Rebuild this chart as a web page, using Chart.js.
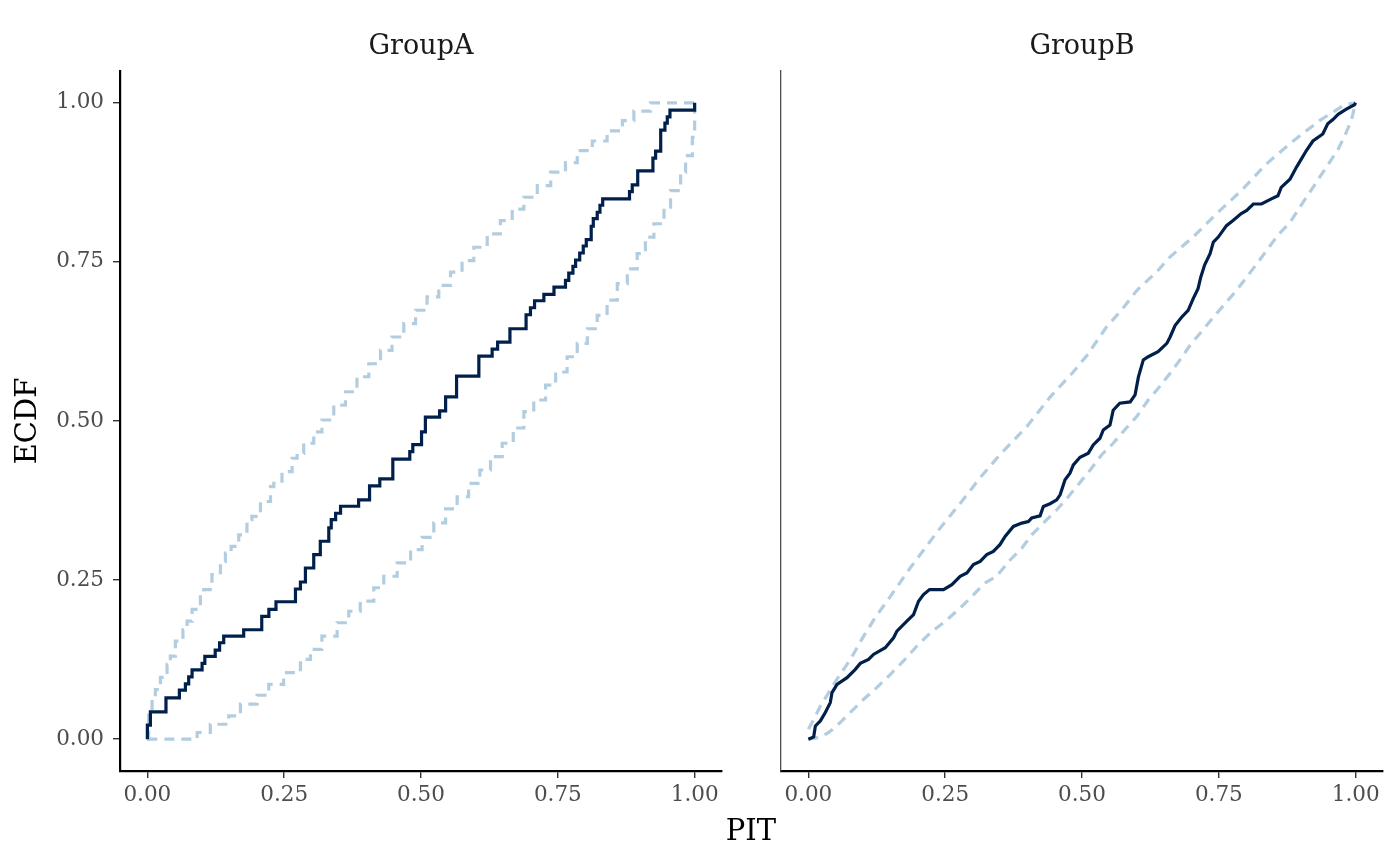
<!DOCTYPE html>
<html>
<head>
<meta charset="utf-8">
<script src="https://cdn.jsdelivr.net/npm/chart.js@4.4.1/dist/chart.umd.min.js"></script>
<style>
  html, body { margin: 0; padding: 0; background: #ffffff; }
  #wrap { position: relative; width: 1400px; height: 866px; overflow: hidden; }
  .panel { position: absolute; top: 0; }
  #xtitle { position: absolute; left: 651px; width: 200px; top: 816px; text-align: center;
            font-family: 'DejaVu Serif', serif; font-size: 29px; line-height: 29px; color: #000; }
</style>
</head>
<body>
<div id="wrap">
  <canvas id="cA" class="panel" width="750" height="866" style="left:0px;width:750px;height:866px"></canvas>
  <canvas id="cB" class="panel" width="650" height="866" style="left:750px;width:650px;height:866px"></canvas>
  <div id="xtitle">PIT</div>
</div>
<script>
// ---------------- data ----------------
const panelNames = ['GroupA', 'GroupB'];
const xTicks = [0, 0.25, 0.5, 0.75, 1];
const yTicks = [0, 0.25, 0.5, 0.75, 1];
const xLabel = 'PIT';
const yLabel = 'ECDF';

// GroupA: observed PIT ECDF (step corners: x, ECDF after the jump)
const ecdfA = [
  [0,0],[0,0.022],[0.0055,0.043],[0.034,0.065],[0.0585,0.077],[0.0695,0.087],[0.0755,0.098],
  [0.0817,0.109],[0.100,0.119],[0.105,0.130],[0.124,0.140],[0.132,0.1515],[0.1395,0.162],
  [0.176,0.172],[0.209,0.193],[0.222,0.204],[0.235,0.216],[0.2706,0.236],[0.2797,0.247],
  [0.2888,0.269],[0.304,0.290],[0.316,0.311],[0.3315,0.332],[0.336,0.345],[0.344,0.355],
  [0.353,0.366],[0.386,0.376],[0.406,0.398],[0.4247,0.409],[0.4485,0.440],[0.4795,0.452],
  [0.485,0.463],[0.501,0.483],[0.508,0.506],[0.534,0.516],[0.545,0.538],[0.565,0.5705],
  [0.6057,0.602],[0.630,0.613],[0.640,0.624],[0.6625,0.645],[0.692,0.667],[0.700,0.678],
  [0.7075,0.689],[0.7245,0.699],[0.743,0.7105],[0.764,0.721],[0.770,0.7325],[0.7776,0.743],
  [0.7825,0.753],[0.790,0.764],[0.7965,0.775],[0.802,0.785],[0.811,0.806],[0.8148,0.818],
  [0.822,0.828],[0.827,0.839],[0.832,0.849],[0.881,0.8605],[0.886,0.871],[0.896,0.893],
  [0.9238,0.913],[0.9287,0.924],[0.938,0.957],[0.9457,0.968],[0.950,0.978],[0.9549,0.9885],
  [1.0,1.0]
];
// GroupA: upper simultaneous band
const upperA = [
  [0,0],[0.0024,0.042],[0.0086,0.065],[0.0146,0.078],[0.0238,0.097],[0.036,0.1175],[0.042,0.1306],
  [0.0512,0.154],[0.065,0.172],[0.0726,0.1854],[0.0817,0.204],[0.097,0.227],[0.103,0.235],
  [0.118,0.2586],[0.1335,0.2795],[0.1426,0.2926],[0.153,0.303],[0.167,0.321],[0.182,0.345],
  [0.191,0.350],[0.2066,0.3735],[0.225,0.397],[0.231,0.402],[0.246,0.4205],[0.2645,0.4415],
  [0.2737,0.449],[0.2857,0.465],[0.304,0.483],[0.319,0.5016],[0.3406,0.525],[0.362,0.546],
  [0.383,0.5695],[0.4046,0.590],[0.426,0.611],[0.447,0.632],[0.4686,0.653],[0.490,0.674],
  [0.511,0.695],[0.5325,0.713],[0.554,0.734],[0.575,0.752],[0.5965,0.773],[0.621,0.794],
  [0.645,0.815],[0.6667,0.833],[0.688,0.8516],[0.7125,0.870],[0.737,0.891],[0.764,0.906],
  [0.7855,0.925],[0.813,0.940],[0.840,0.956],[0.868,0.972],[0.889,0.987],[0.9195,1.0],[1.0,1.0]
];
// GroupA: lower simultaneous band
const lowerA = [
  [0,0],[0.088,0],[0.091,0.0105],[0.115,0.0235],[0.1486,0.0365],[0.170,0.055],[0.2005,0.069],
  [0.2218,0.086],[0.249,0.1045],[0.2797,0.1254],[0.298,0.141],[0.319,0.162],[0.3468,0.183],
  [0.368,0.201],[0.389,0.217],[0.4137,0.238],[0.432,0.256],[0.4565,0.277],[0.481,0.298],
  [0.502,0.317],[0.5234,0.340],[0.545,0.362],[0.566,0.381],[0.587,0.402],[0.6075,0.423],
  [0.627,0.444],[0.6484,0.465],[0.6686,0.489],[0.688,0.5146],[0.706,0.533],[0.7276,0.5564],
  [0.746,0.577],[0.767,0.601],[0.7855,0.622],[0.804,0.645],[0.822,0.666],[0.840,0.690],
  [0.8587,0.716],[0.877,0.739],[0.895,0.763],[0.910,0.789],[0.9256,0.810],[0.944,0.836],
  [0.956,0.862],[0.9744,0.891],[0.9835,0.917],[0.9958,0.9456],[1.0,0.977],[1.0,1.0]
];

// GroupB: observed PIT ECDF
const ecdfB = [
  [0,0],[0.0097,0.0036],[0.0128,0.0208],[0.0219,0.0287],[0.031,0.0418],[0.0401,0.0575],
  [0.0432,0.0732],[0.0524,0.0862],[0.0706,0.0967],[0.0858,0.1097],[0.0949,0.1191],[0.110,0.1254],
  [0.119,0.1332],[0.1405,0.1437],[0.1557,0.1594],[0.1618,0.1698],[0.180,0.1854],[0.1922,0.1959],
  [0.2013,0.2168],[0.2104,0.2273],[0.2214,0.2351],[0.2469,0.2351],[0.2622,0.2429],[0.2774,0.256],
  [0.2896,0.2613],[0.3016,0.2743],[0.3139,0.2795],[0.326,0.290],[0.338,0.295],[0.350,0.3056],
  [0.3595,0.3187],[0.3746,0.3343],[0.390,0.3396],[0.402,0.342],[0.408,0.3475],[0.4234,0.351],
  [0.4294,0.3657],[0.4416,0.370],[0.4538,0.376],[0.460,0.384],[0.469,0.4075],[0.478,0.418],
  [0.4842,0.431],[0.4964,0.443],[0.5115,0.4494],
  [0.5206,0.4624],[0.5328,0.4729],[0.5389,0.4859],[0.5511,0.4937],[0.557,0.517],[0.569,0.528],
  [0.588,0.530],[0.597,0.541],[0.603,0.569],[0.612,0.596],[0.621,0.601],[0.639,0.609],
  [0.655,0.622],[0.661,0.632],[0.670,0.650],[0.682,0.663],[0.694,0.674],[0.703,0.692],
  [0.712,0.708],[0.717,0.726],[0.724,0.745],[0.734,0.763],[0.740,0.781],[0.749,0.789],
  [0.764,0.807],[0.776,0.815],[0.791,0.826],[0.801,0.831],[0.813,0.841],[0.828,0.841],
  [0.846,0.849],[0.858,0.854],[0.864,0.867],[0.880,0.880],[0.892,0.899],[0.901,0.912],
  [0.910,0.925],[0.922,0.940],[0.940,0.951],[0.949,0.967],[0.959,0.974],[0.968,0.982],
  [0.983,0.990],[0.998,0.997],[1.0,1.0]
];
// GroupB: upper band
const upperB = [
  [0,0.0157],[0.0097,0.031],[0.0219,0.052],[0.037,0.073],[0.052,0.094],[0.0766,0.125],
  [0.101,0.162],[0.122,0.191],[0.1436,0.2168],[0.165,0.243],[0.186,0.269],[0.241,0.332],
  [0.277,0.370],[0.314,0.411],[0.350,0.447],[0.399,0.491],[0.442,0.538],[0.484,0.577],
  [0.509,0.603],[0.545,0.648],[0.572,0.674],[0.600,0.705],[0.636,0.734],[0.661,0.758],
  [0.703,0.789],[0.746,0.826],[0.791,0.862],[0.837,0.904],[0.883,0.938],[0.934,0.972],
  [0.980,0.997],[1.0,1.0]
];
// GroupB: lower band
const lowerB = [
  [0,0],[0.022,0.003],[0.037,0.0105],[0.052,0.021],[0.0766,0.042],[0.101,0.0627],[0.125,0.081],
  [0.150,0.102],[0.174,0.123],[0.198,0.146],[0.2226,0.167],[0.250,0.185],[0.277,0.206],
  [0.302,0.227],[0.322,0.245],[0.344,0.256],[0.369,0.282],[0.390,0.300],[0.408,0.321],
  [0.4356,0.345],[0.454,0.3605],[0.475,0.381],[0.493,0.400],[0.515,0.423],[0.536,0.447],
  [0.557,0.465],[0.578,0.486],[0.600,0.507],[0.621,0.533],[0.639,0.551],[0.661,0.575],
  [0.679,0.596],[0.700,0.622],[0.721,0.643],[0.740,0.663],[0.761,0.684],[0.782,0.705],
  [0.801,0.726],[0.822,0.750],[0.840,0.771],[0.858,0.792],[0.880,0.812],[0.898,0.836],
  [0.916,0.859],[0.934,0.883],[0.952,0.906],[0.968,0.927],[0.980,0.948],[0.992,0.972],[1.0,1.0]
];

// ---------------- styling ----------------
const FONT = "'DejaVu Serif', serif";
const ECDF_COLOR = '#011f4b';
const BAND_COLOR = '#b3cde0';
const LINE_W = 3.2;
Chart.defaults.font.family = FONT;

function fixedTicks(values) {
  return function (scale) { scale.ticks = values.map(v => ({ value: v })); };
}

function makePanel(canvasId, name, ecdf, upper, lower, opts) {
  const datasets = [
    { label: 'ECDF', data: ecdf, borderColor: ECDF_COLOR, borderWidth: LINE_W,
      stepped: opts.stepped, pointRadius: 0, tension: 0, fill: false },
    { label: 'Upper band', data: upper, borderColor: BAND_COLOR, borderWidth: LINE_W,
      borderDash: [10, 7], stepped: opts.stepped, pointRadius: 0, tension: 0, fill: false },
    { label: 'Lower band', data: lower, borderColor: BAND_COLOR, borderWidth: LINE_W,
      borderDash: [10, 7], stepped: opts.stepped, pointRadius: 0, tension: 0, fill: false }
  ];
  return new Chart(document.getElementById(canvasId), {
    type: 'line',
    data: { datasets },
    options: {
      responsive: false,
      animation: false,
      devicePixelRatio: 1,
      layout: { padding: { left: 0, right: opts.padRight, top: 0, bottom: 0 } },
      plugins: {
        legend: { display: false },
        tooltip: { enabled: false },
        title: {
          display: true, text: name, fullSize: false,
          color: '#1a1a1a', font: { family: FONT, size: 27, weight: 'normal' },
          padding: { top: 30.3, bottom: 8.3 }
        }
      },
      scales: {
        x: {
          type: 'linear', min: -0.05, max: 1.05,
          afterBuildTicks: fixedTicks(xTicks),
          afterFit: s => { s.height = 95; },
          grid: { display: true, drawOnChartArea: false, drawTicks: true, tickLength: 7,
                  color: '#333333', lineWidth: 1.4 },
          border: { display: true, color: '#000000', width: 2.2 },
          ticks: { color: '#4d4d4d', padding: 5, font: { family: FONT, size: 21.5 },
                   maxRotation: 0, autoSkip: false,
                   callback: v => Number(v).toFixed(2) }
        },
        y: {
          type: 'linear', min: -0.05, max: 1.05,
          afterBuildTicks: fixedTicks(yTicks),
          afterFit: s => { s.width = opts.yWidth; },
          grid: { display: true, drawOnChartArea: false, drawTicks: opts.showY, tickLength: 7,
                  color: '#333333', lineWidth: 1.4 },
          border: { display: true, color: opts.showY ? '#000000' : '#4d4d4d',
                    width: opts.showY ? 2.2 : 1.3 },
          ticks: { display: opts.showY, color: '#4d4d4d', padding: 9,
                   font: { family: FONT, size: 21.5 }, autoSkip: false,
                   callback: v => Number(v).toFixed(2) },
          title: { display: opts.showY, text: yLabel, color: '#000000',
                   font: { family: FONT, size: 29 }, padding: { top: 10.6, bottom: 0 } }
        }
      }
    }
  });
}

makePanel('cA', panelNames[0], ecdfA, upperA, lowerA,
  { stepped: true, padRight: 28, yWidth: 120, showY: true });
makePanel('cB', panelNames[1], ecdfB, upperB, lowerB,
  { stepped: false, padRight: 17, yWidth: 31, showY: false });
document.getElementById('xtitle').textContent = xLabel;
</script>
</body>
</html>
